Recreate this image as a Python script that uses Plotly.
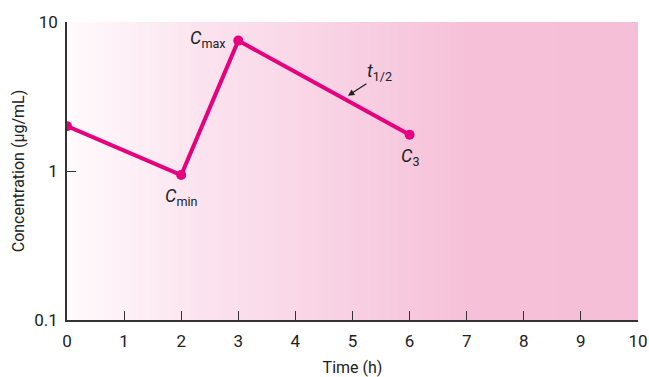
import numpy as np
import plotly.graph_objects as go

# Data
time_h = [0, 2, 3, 6]
conc = [2.0, 0.94, 7.5, 1.75]
x_ticks = [0, 1, 2, 3, 4, 5, 6, 7, 8, 9, 10]
y_ticks = [0.1, 1, 10]
y_ticktext = ["0.1", "1", "10"]

# Background gradient (colour stops along the time axis)
grad_x = list(np.linspace(0, 10, 201))
grad_stops = [[0.0, "#FFFAFC"], [0.24, "#FBE3EE"], [0.47, "#F8D2E4"],
              [0.70, "#F6C0D9"], [1.0, "#F6BFD8"]]

PINK = "#E6007E"
FONT = "Roboto, Arial"
AX = "#333333"

fig = go.Figure()

fig.add_trace(go.Heatmap(
    x=grad_x, y=[0, 1], z=[grad_x[:-1]],
    colorscale=grad_stops, zmin=0, zmax=10, showscale=False,
    hoverinfo="skip", xaxis="x", yaxis="y",
))

fig.add_trace(go.Scatter(
    x=time_h, y=conc, mode="lines+markers",
    line=dict(color=PINK, width=4),
    marker=dict(color=PINK, size=10),
    xaxis="x", yaxis="y2", showlegend=False,
))

ann_font = dict(family=FONT, size=18, color="#222222")
fig.update_layout(
    width=649, height=377,
    margin=dict(l=67, r=11, t=22, b=57, autoexpand=False),
    paper_bgcolor="white", plot_bgcolor="white",
    font=dict(family=FONT, size=17, color="#222222"),
    xaxis=dict(range=[0, 10], tickvals=x_ticks, ticks="inside", ticklen=9,
               tickcolor=AX, tickwidth=1.2, showline=True, linecolor=AX,
               linewidth=1.5, showgrid=False, zeroline=False,
               ticklabelstandoff=5,
               title=dict(text="Time (h)", font=dict(size=16), standoff=14),
               tickfont=dict(size=17)),
    yaxis=dict(range=[0, 1], visible=False, fixedrange=True),
    yaxis2=dict(type="log", range=[-1, 1], overlaying="y", side="left",
                tickvals=y_ticks, ticktext=y_ticktext, ticks="inside",
                ticklen=9, tickcolor=AX, tickwidth=1.2, showline=True,
                linecolor=AX, linewidth=1.5, showgrid=False, zeroline=False,
                ticklabelstandoff=4,
                title=dict(text="Concentration (µg/mL)", font=dict(size=16), standoff=6),
                tickfont=dict(size=17)),
    annotations=[
        dict(x=3, y=np.log10(7.5), xref="x", yref="y2", text="<i>C</i><sub>max</sub>",
             showarrow=False, xanchor="right", xshift=-10, yshift=2, font=ann_font),
        dict(x=2, y=np.log10(0.94), xref="x", yref="y2", text="<i>C</i><sub>min</sub>",
             showarrow=False, xanchor="center", yanchor="top", yshift=-8, font=ann_font),
        dict(x=6, y=np.log10(1.75), xref="x", yref="y2", text="<i>C</i><sub>3</sub>",
             showarrow=False, xanchor="center", yanchor="top", yshift=-8, font=ann_font),
        dict(x=4.92, y=np.log10(3.2), xref="x", yref="y2", text="",
             showarrow=True, arrowhead=2, arrowsize=1, arrowwidth=1.3,
             arrowcolor="#222222", ax=20, ay=-13),
        dict(x=5.22, y=np.log10(4.6), xref="x", yref="y2", text="<i>t</i><sub>1/2</sub>",
             showarrow=False, xanchor="left", font=ann_font),
    ],
)

fig.write_html("out.html")
